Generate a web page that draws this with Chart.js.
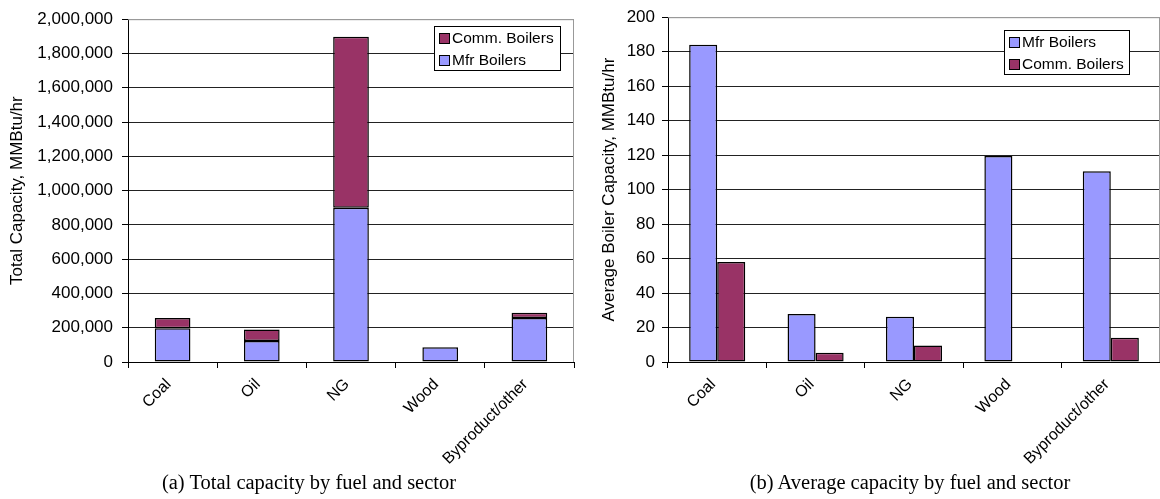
<!DOCTYPE html>
<html>
<head>
<meta charset="utf-8">
<script src="https://cdn.jsdelivr.net/npm/chart.js@4.4.0/dist/chart.umd.min.js"></script>
<style>
  body { margin: 0; background: #fff; width: 1160px; height: 499px; position: relative; overflow: hidden; }
  .box { position: absolute; top: 0; width: 580px; height: 499px; }
  .cap { position: absolute; top: 472px; font: 20.5px "Liberation Serif", "Times New Roman", serif; line-height: 20px;
         color: #000; white-space: nowrap; transform: translateX(-50%); }
</style>
</head>
<body>
<div class="box" style="left:0"><canvas id="total" width="580" height="499"></canvas></div>
<div class="box" style="left:580px"><canvas id="avg" width="580" height="499"></canvas></div>
<div class="cap" style="left:309px">(a) Total capacity by fuel and sector</div>
<div class="cap" style="left:910px">(b) Average capacity by fuel and sector</div>
<script>
// data
var fuels = ['Coal', 'Oil', 'NG', 'Wood', 'Byproduct/other'];
var totalMfr = [197000, 123000, 900000, 86000, 256000];
var totalComm = [59000, 67000, 998000, 0, 31000];
var avgMfr = [184, 27.9, 26.3, 119.5, 110.6];
var avgComm = [58, 5.4, 9.6, 0, 14];

var mfrColor = '#9999FF';
var commColor = '#993366';
var sans = '"Liberation Sans", Arial, sans-serif';

// legend box drawn inside the plot, like the Excel one
var boxLegend = {
  id: 'boxLegend',
  afterDraw: function (chart, args, o) {
    var ctx = chart.ctx;
    ctx.save();
    ctx.fillStyle = '#fff';
    ctx.fillRect(o.x, o.y, o.w, o.h);
    ctx.strokeStyle = '#000';
    ctx.lineWidth = 1;
    ctx.strokeRect(o.x + 0.5, o.y + 0.5, o.w, o.h);
    ctx.font = '15.5px ' + sans;
    ctx.textBaseline = 'middle';
    o.order.forEach(function (di, row) {
      var ds = chart.data.datasets[di];
      var cy = Math.round(o.y + 12 + row * 21.5);
      ctx.fillStyle = ds.backgroundColor;
      ctx.fillRect(o.x + 5, cy - 5, 10, 10);
      ctx.strokeRect(o.x + 5.5, cy - 4.5, 10, 10);
      ctx.fillStyle = '#000';
      ctx.fillText(ds.label, o.x + 18, cy + 1);
    });
    ctx.restore();
  }
};

// gray frame on the right side of the plot
var plotFrame = {
  id: 'plotFrame',
  beforeDatasetsDraw: function (chart) {
    var a = chart.chartArea, ctx = chart.ctx;
    ctx.save();
    ctx.strokeStyle = '#999';
    ctx.lineWidth = 1;
    ctx.beginPath();
    ctx.moveTo(a.left, a.top + 0.5);
    ctx.lineTo(a.right - 0.5, a.top + 0.5);
    ctx.lineTo(a.right - 0.5, a.bottom);
    ctx.stroke();
    ctx.restore();
  }
};

function makeOptions(cfg) {
  return {
    responsive: false,
    animation: false,
    layout: { padding: cfg.padding },
    plugins: { legend: { display: false }, tooltip: { enabled: false }, boxLegend: cfg.legend },
    scales: {
      x: {
        stacked: cfg.stacked,
        grid: { offset: true, drawOnChartArea: false, drawTicks: true, tickLength: 6, tickColor: '#000' },
        border: { display: true, color: '#000' },
        ticks: { minRotation: 45, maxRotation: 45, autoSkip: false, color: '#000', padding: 7, labelOffset: -4,
                 font: { size: 16, family: sans } },
        afterFit: function (s) { s.height = 499 - 362; }
      },
      y: {
        stacked: cfg.stacked,
        min: 0, max: cfg.max,
        ticks: { stepSize: cfg.step, color: '#000', padding: cfg.tickPad, font: { size: 17, family: sans },
                 callback: function (v) { return v.toLocaleString('en-US'); } },
        grid: { color: function (c) { return c.tick && c.tick.value === cfg.max ? '#999' : '#222'; },
                tickColor: '#000', tickLength: 6 },
        border: { display: true, color: '#000' },
        title: { display: true, text: cfg.title, color: '#000', font: { size: 17, family: sans },
                 padding: { top: cfg.titlePad, bottom: 0 } },
        afterFit: function (s) { s.width = cfg.axisWidth; }
      }
    }
  };
}

new Chart(document.getElementById('total'), {
  type: 'bar',
  data: {
    labels: fuels,
    datasets: [
      { label: 'Mfr Boilers', data: totalMfr, backgroundColor: mfrColor, borderColor: '#000', borderWidth: 1.5,
        borderSkipped: false, barPercentage: 0.4, categoryPercentage: 1 },
      { label: 'Comm. Boilers', data: totalComm, backgroundColor: commColor, borderColor: '#000', borderWidth: 1.5,
        borderSkipped: false, barPercentage: 0.4, categoryPercentage: 1 }
    ]
  },
  options: makeOptions({
    stacked: true, max: 2000000, step: 200000, tickPad: 9,
    title: 'Total Capacity, MMBtu/hr', titlePad: 7, axisWidth: 128,
    padding: { top: 16, right: 6, left: 0, bottom: 0 },
    legend: { x: 434, y: 26, w: 126, h: 44, order: [1, 0] }
  }),
  plugins: [boxLegend, plotFrame]
});

new Chart(document.getElementById('avg'), {
  type: 'bar',
  data: {
    labels: fuels,
    datasets: [
      { label: 'Mfr Boilers', data: avgMfr, backgroundColor: mfrColor, borderColor: '#000', borderWidth: 1.5,
        borderSkipped: false, barPercentage: 1, categoryPercentage: 0.57 },
      { label: 'Comm. Boilers', data: avgComm, backgroundColor: commColor, borderColor: '#000', borderWidth: 1.5,
        borderSkipped: false, barPercentage: 1, categoryPercentage: 0.57 }
    ]
  },
  options: makeOptions({
    stacked: false, max: 200, step: 20, tickPad: 7,
    title: 'Average Boiler Capacity, MMBtu/hr', titlePad: 19, axisWidth: 88,
    padding: { top: 12, right: 0, left: 0, bottom: 0 },
    legend: { x: 424, y: 30, w: 125, h: 44, order: [0, 1] }
  }),
  plugins: [boxLegend, plotFrame]
});
</script>
</body>
</html>
